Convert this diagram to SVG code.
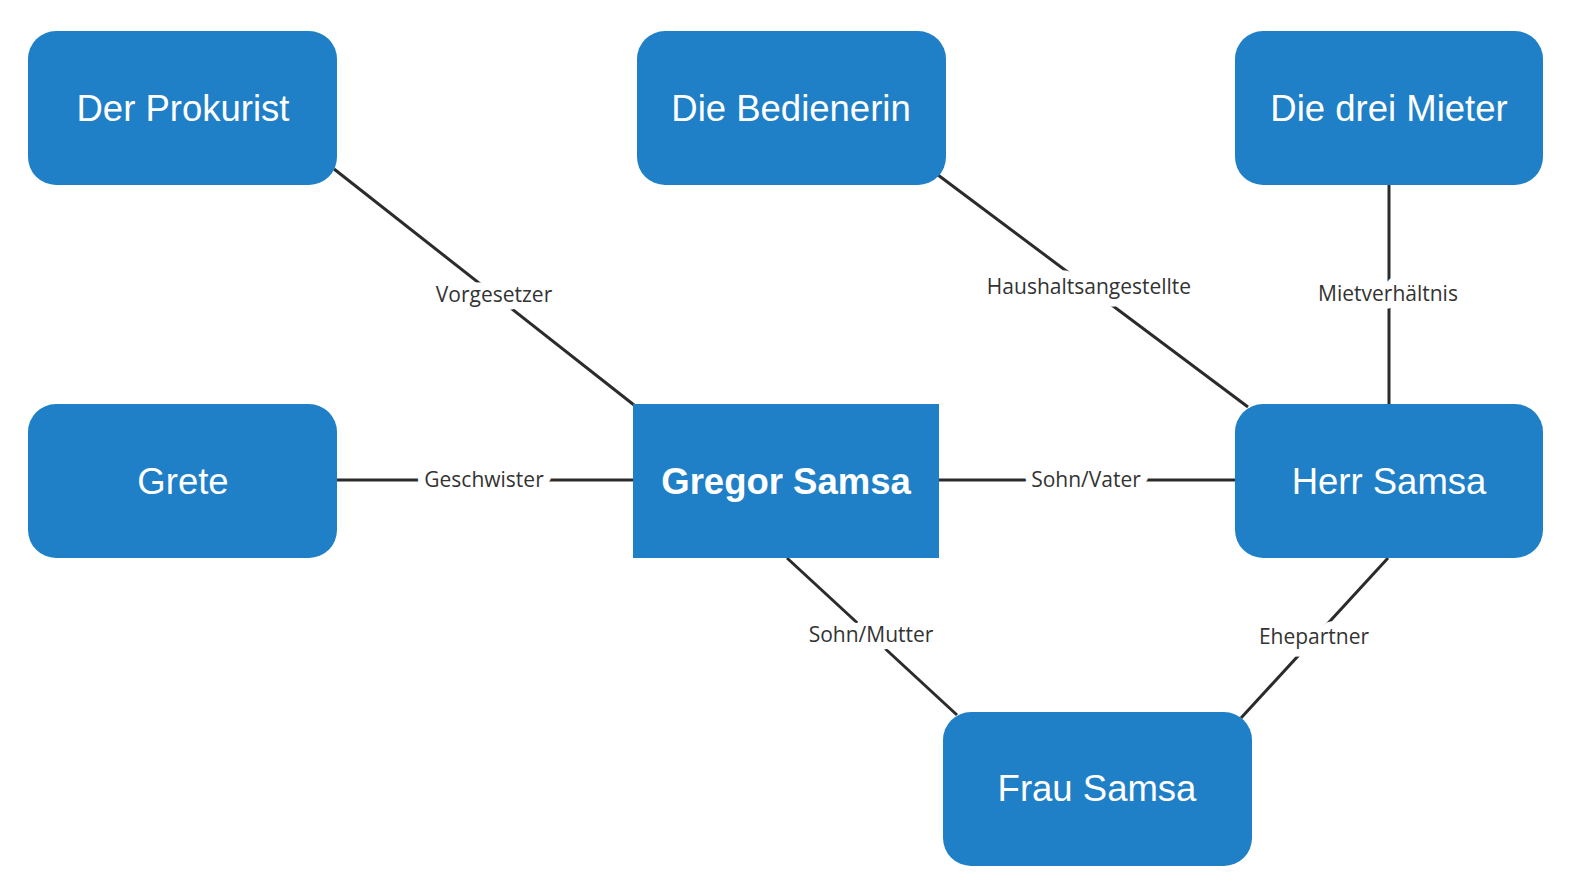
<svg xmlns="http://www.w3.org/2000/svg" width="1572" height="889" viewBox="0 0 1572 889">
<style>
.node{fill:#1f80c7;}
.nt{font-family:"Liberation Sans",Arial,sans-serif;font-size:36.5px;fill:#ffffff;text-anchor:middle;}
.bold{font-weight:bold;}
.edge{stroke:#2b2b2b;stroke-width:3;fill:none;}
.lbl{font-family:"Open Sans","Noto Sans",sans-serif;font-size:21px;fill:#333333;text-anchor:middle;stroke:#ffffff;stroke-width:15;paint-order:stroke;stroke-linejoin:round;}
</style>
<rect width="1572" height="889" fill="#ffffff"/>
<g id="connectors">
<line class="edge" x1="334" y1="169" x2="634" y2="405"/>
<line class="edge" x1="938" y1="175" x2="1248" y2="407"/>
<line class="edge" x1="1389" y1="185" x2="1389" y2="404"/>
<line class="edge" x1="337" y1="480" x2="633" y2="480"/>
<line class="edge" x1="938" y1="480" x2="1235" y2="480"/>
<line class="edge" x1="787" y1="558" x2="957" y2="715"/>
<line class="edge" x1="1388" y1="558" x2="1241" y2="718"/>
<text class="lbl" x="494" y="302">Vorgesetzer</text>
<text class="lbl" x="1089" y="294">Haushaltsangestellte</text>
<text class="lbl" x="1388" y="301">Mietverhältnis</text>
<text class="lbl" x="484" y="487">Geschwister</text>
<text class="lbl" x="1086" y="487">Sohn/Vater</text>
<text class="lbl" x="871" y="642">Sohn/Mutter</text>
<text class="lbl" x="1314" y="644">Ehepartner</text>
</g>
<g id="prokurist"><rect class="node" x="28" y="31" width="309" height="154" rx="28"/><text class="nt" x="183" y="121">Der Prokurist</text></g>
<g id="bedienerin"><rect class="node" x="637" y="31" width="309" height="154" rx="28"/><text class="nt" x="791" y="121">Die Bedienerin</text></g>
<g id="mieter"><rect class="node" x="1235" y="31" width="308" height="154" rx="28"/><text class="nt" x="1389" y="121">Die drei Mieter</text></g>
<g id="grete"><rect class="node" x="28" y="404" width="309" height="154" rx="28"/><text class="nt" x="183" y="494">Grete</text></g>
<g id="gregor"><rect class="node" x="633" y="404" width="306" height="154"/><text class="nt bold" x="786" y="494">Gregor Samsa</text></g>
<g id="herr"><rect class="node" x="1235" y="404" width="308" height="154" rx="28"/><text class="nt" x="1389" y="494">Herr Samsa</text></g>
<g id="frau"><rect class="node" x="943" y="712" width="309" height="154" rx="28"/><text class="nt" x="1097" y="801">Frau Samsa</text></g>
</svg>
